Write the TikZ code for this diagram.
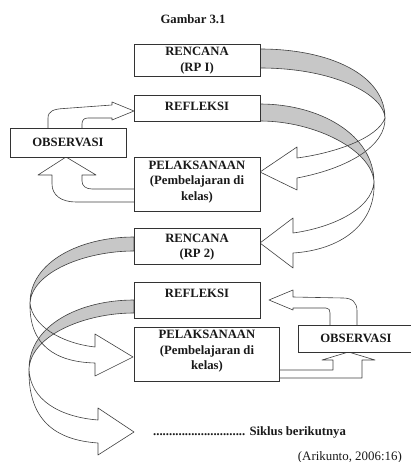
\documentclass[tikz,border=0pt]{standalone}
\usepackage{fontspec}
\setmainfont{Liberation Serif}
\begin{document}
\begin{tikzpicture}[x=1pt,y=-1pt,
  box/.style={draw=black!80, line width=0.7pt, fill=white, inner sep=0pt},
  lbl/.style={font=\bfseries\fontsize{12.7}{15.5}\selectfont, align=center, inner sep=0pt, text=black!90},
  src/.style={font=\fontsize{12.9}{15}\selectfont, inner sep=0pt, text=black!90},
  band/.style={fill=black!22, draw=black!75, line width=0.6pt, line join=round},
  edgeln/.style={draw=black!75, line width=0.6pt, line join=round}]
\useasboundingbox (0,0) rectangle (411,462);

% gray back parts of the ribbons
\path[band] (260,49) .. controls (330,49) and (385,75) .. (385,118) .. controls (384,95) and (335,68) .. (260,68) -- cycle;
\path[band] (260,104) .. controls (320,104) and (374,135) .. (374,182) .. controls (372,150) and (315,121) .. (260,121) -- cycle;
\path[band] (134,237) .. controls (80,237) and (30,262) .. (30,303) .. controls (32,272) and (85,251) .. (134,251) -- cycle;
\path[band] (134,300) .. controls (80,300) and (29,325) .. (29,369) .. controls (31,335) and (85,313) .. (134,313) -- cycle;

% front parts with arrow heads
\path[edgeln] (385,118) .. controls (386,145) and (350,168) .. (297,178) -- (297,190) -- (260,172) -- (297,147) -- (297,158) .. controls (335,153) and (378,138) .. (385,118);
\path[edgeln] (374,182) .. controls (376,225) and (340,250) .. (293,253) -- (293,268) -- (260,243) -- (293,218) -- (293,233) .. controls (330,228) and (372,210) .. (374,182);
\path[edgeln] (30,303) .. controls (29,345) and (55,362) .. (95,363) -- (95,376) -- (133,357) -- (95,334) -- (95,347) .. controls (60,343) and (32,325) .. (30,303);
\path[edgeln] (29,369) .. controls (28,420) and (55,440) .. (98,443) -- (98,455) -- (134,432) -- (98,408) -- (98,420) .. controls (60,417) and (30,400) .. (29,369);

% small arrows around OBSERVASI (cycle 1)
\path[edgeln] (48,128) -- (48,118) .. controls (48,111) and (54,109) .. (64,108.5) -- (112,105) -- (112,102) -- (134,111) -- (112,120) -- (112,118) -- (88,118) .. controls (84,118) and (82,120) .. (82,124) -- (82,128);
\path[edgeln] (134,202) -- (76,202) .. controls (61,202) and (52,195) .. (52,184) -- (52,175) -- (38,175) -- (66,157) -- (96,175) -- (82,175) -- (82,181) .. controls (82,186) and (86,189) .. (92,189) -- (134,189);

% small arrows around OBSERVASI (cycle 2)
\path[edgeln] (357,325) -- (357,311) .. controls (357,302) and (352,298) .. (343,298) -- (293,297) -- (293,290) -- (269,300) -- (293,310) -- (293,308) -- (326,308) .. controls (329,308) and (330,310) .. (330,313) -- (330,325);
\path[edgeln] (279,370) -- (333,370) -- (333,360) -- (322,360) -- (348.5,352) -- (375,360) -- (362,360) -- (362,378) -- (279,378);

% boxes
\node[box, minimum width=126pt, minimum height=32pt] (r1) at (197,60) {};
\node[box, minimum width=126pt, minimum height=26pt] (f1) at (197,108) {};
\node[box, minimum width=116pt, minimum height=29pt] (o1) at (68,142.5) {};
\node[box, minimum width=126pt, minimum height=54pt] (p1) at (197,184) {};
\node[box, minimum width=126pt, minimum height=36pt] (r2) at (197,246) {};
\node[box, minimum width=126pt, minimum height=36pt] (f2) at (197,300) {};
\node[box, minimum width=145pt, minimum height=54pt] (p2) at (206.5,354) {};
\node[box, minimum width=115pt, minimum height=27pt] (o2) at (355.5,338.5) {};

% texts
\node[lbl] (tgam) at (193,19) {Gambar 3.1};
\node[lbl] (tr1) at (197,60.5) {RENCANA\\(RP I)};
\node[lbl] (tf1) at (197,106.5) {REFLEKSI};
\node[lbl] (to1) at (68,142.5) {OBSERVASI};
\node[lbl] (tp1) at (197,182) {PELAKSANAAN\\(Pembelajaran di\\kelas)};
\node[lbl] (tr2) at (197,247) {RENCANA\\(RP 2)};
\node[lbl] (tf2) at (197,293) {REFLEKSI};
\node[lbl] (tp2) at (207,351.5) {PELAKSANAAN\\(Pembelajaran di\\kelas)};
\node[lbl] (to2) at (356,338) {OBSERVASI};
\node[lbl, anchor=west] (tsik) at (153,432) {............................. Siklus berikutnya};
\node[src, anchor=east] (tari) at (402,457) {(Arikunto, 2006:16)};
\end{tikzpicture}
\end{document}
